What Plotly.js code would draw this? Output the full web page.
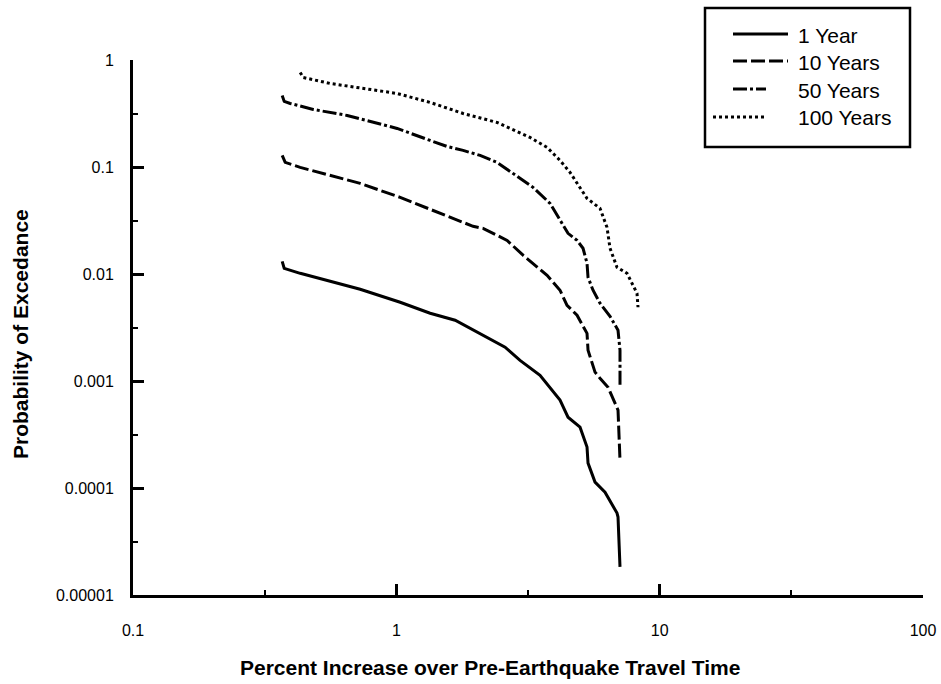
<!DOCTYPE html>
<html><head><meta charset="utf-8">
<script src="https://cdn.plot.ly/plotly-3.0.1.min.js"></script>
<style>html,body{margin:0;padding:0;background:#fff}#chart{width:941px;height:684px}</style>
</head><body><div id="chart"></div>
<script>
// ---- data ----
const seriesNames = ["1 Year", "10 Years", "50 Years", "100 Years"];

const x1Year = [0.3686, 0.3752, 0.4314, 0.5607, 0.7288, 1.034, 1.344, 1.672, 2.080, 2.588, 2.950, 3.513, 4.184, 4.487, 4.984, 5.298, 5.345, 5.682, 6.200, 6.887, 6.948, 7.069];
const y1Year = [0.01314, 0.0113, 0.01015, 0.00855, 0.0072, 0.00544, 0.0043, 0.0037, 0.00279, 0.00207, 0.00156, 0.00113, 0.000662, 0.000459, 0.00037, 0.000241, 0.000171, 0.0001135, 0.0000915, 0.0000583, 0.0000535, 0.0000183];

const x10Years = [0.3686, 0.3784, 0.4314, 0.5607, 0.7288, 1.034, 1.466, 1.956, 2.135, 2.634, 3.028, 3.736, 4.184, 4.448, 4.856, 5.298, 5.345, 5.682, 5.935, 6.366, 6.948, 7.069];
const y10Years = [0.1283, 0.1104, 0.0991, 0.0835, 0.0703, 0.0520, 0.0369, 0.0279, 0.0267, 0.0206, 0.0150, 0.00972, 0.00705, 0.0051, 0.00412, 0.00279, 0.00194, 0.00121, 0.00106, 0.000875, 0.000534, 0.000182];

const x50Years = [0.3686, 0.3752, 0.3954, 0.4835, 0.6506, 0.7482, 1.007, 1.344, 1.559, 1.793, 2.080, 2.413, 2.776, 3.305, 3.835, 4.184, 4.487, 4.856, 5.116, 5.298, 5.345, 5.584, 5.935, 6.478, 6.948, 7.069, 7.069];
const y50Years = [0.4662, 0.4100, 0.3926, 0.3449, 0.3033, 0.2782, 0.2293, 0.1771, 0.1557, 0.1429, 0.1283, 0.1104, 0.0871, 0.0645, 0.0457, 0.0317, 0.0240, 0.0206, 0.0174, 0.01259, 0.00931, 0.00705, 0.00533, 0.00403, 0.00298, 0.00194, 0.000914];

const x100Years = [0.4314, 0.4430, 0.5607, 0.7482, 1.007, 1.344, 1.793, 2.413, 3.219, 3.736, 4.184, 4.566, 4.984, 5.298, 5.935, 6.310, 6.478, 6.887, 7.514, 8.203, 8.275];
const y100Years = [0.7643, 0.6864, 0.6034, 0.5419, 0.4867, 0.4012, 0.3165, 0.2609, 0.1889, 0.1524, 0.1152, 0.0891, 0.0645, 0.0509, 0.0411, 0.0273, 0.0174, 0.01155, 0.01015, 0.0066, 0.00489];

const xTickVals = [0.1, 1, 10, 100];
const xTickText = ["0.1", "1", "10", "100"];
const xMinorVals = [0.316, 3.16, 31.6];
const yTickVals = [1, 0.1, 0.01, 0.001, 0.0001, 0.00001];
const yTickText = ["1", "0.1", "0.01", "0.001", "0.0001", "0.00001"];
const yMinorVals = [0.316, 0.0316, 0.00316, 0.000316, 0.0000316];

const xTitle = "Percent Increase over Pre-Earthquake Travel Time";
const yTitle = "Probability of Excedance";

// ---- styling ----
const FONT = "Liberation Sans, Arial, Helvetica, sans-serif";
const dashes = ["solid", "14px,4px", "14px,3px,3px,3px", "3px,3px"];
const xs = [x1Year, x10Years, x50Years, x100Years];
const ys = [y1Year, y10Years, y50Years, y100Years];

const traces = seriesNames.map((n, i) => ({
  type: "scatter", mode: "lines", name: n,
  x: xs[i], y: ys[i],
  line: {color: "#000", width: 3, dash: dashes[i]},
  showlegend: false, hoverinfo: "x+y+name"
}));

// layout geometry
const M = {l: 133, r: 18, t: 60, b: 89};
const W = 941, H = 684;
const PW = W - M.l - M.r, PH = H - M.t - M.b;
const PX = p => (p - M.l) / PW;
const PY = p => (H - M.b - p) / PH;

// custom legend (box, samples, labels)
const shapes = [{
  type: "rect", xref: "paper", yref: "paper",
  x0: PX(705), x1: PX(910), y0: PY(147), y1: PY(8),
  line: {color: "#000", width: 2.5}, fillcolor: "#fff", layer: "above"
}];
const rowY = [34, 61, 89, 117];
const sampleX0 = [733, 733, 733, 713];
const sampleX1 = [788, 788, 766, 765];
const annotations = [];
seriesNames.forEach((n, i) => {
  shapes.push({
    type: "line", xref: "paper", yref: "paper",
    x0: PX(sampleX0[i]), x1: PX(sampleX1[i]), y0: PY(rowY[i]), y1: PY(rowY[i]),
    line: {color: "#000", width: 3, dash: dashes[i]}, layer: "above"
  });
  annotations.push({
    xref: "paper", yref: "paper", x: PX(796), y: PY(rowY[i] + 1),
    xanchor: "left", yanchor: "middle", showarrow: false, text: n,
    font: {family: FONT, size: 21, color: "#000"}
  });
});

// axis titles
annotations.push({
  xref: "paper", yref: "paper", x: PX(490), y: PY(667),
  xanchor: "center", yanchor: "middle", showarrow: false, text: xTitle,
  font: {family: FONT, size: 21, weight: 700, color: "#000"}
});
annotations.push({
  xref: "paper", yref: "paper", x: PX(21), y: PY(334),
  xanchor: "center", yanchor: "middle", showarrow: false, text: yTitle, textangle: -90,
  font: {family: FONT, size: 21, weight: 700, color: "#000"}
});

const axisCommon = {
  type: "log", tickmode: "array", ticks: "inside", ticklen: 11, tickwidth: 3,
  tickcolor: "#000", showline: true, linewidth: 3, linecolor: "#000",
  showgrid: false, zeroline: false, mirror: false,
  tickfont: {family: FONT, size: 16, color: "#000"}
};

const layout = {
  width: W, height: H, margin: M,
  paper_bgcolor: "#fff", plot_bgcolor: "#fff",
  font: {family: FONT, color: "#000"},
  showlegend: false,
  xaxis: Object.assign({}, axisCommon, {
    range: [-1, 2], tickvals: xTickVals, ticktext: xTickText,
    ticklabelstandoff: 19,
    minor: {tickmode: "array", tickvals: xMinorVals, ticks: "inside", ticklen: 5, tickwidth: 2, tickcolor: "#000", showgrid: false}
  }),
  yaxis: Object.assign({}, axisCommon, {
    range: [-5, 0], tickvals: yTickVals, ticktext: yTickText,
    ticklabelstandoff: 13,
    minor: {tickmode: "array", tickvals: yMinorVals, ticks: "inside", ticklen: 5, tickwidth: 2, tickcolor: "#000", showgrid: false}
  }),
  shapes: shapes,
  annotations: annotations
};

Plotly.newPlot("chart", traces, layout, {displayModeBar: false, staticPlot: true});
</script>
</body></html>
